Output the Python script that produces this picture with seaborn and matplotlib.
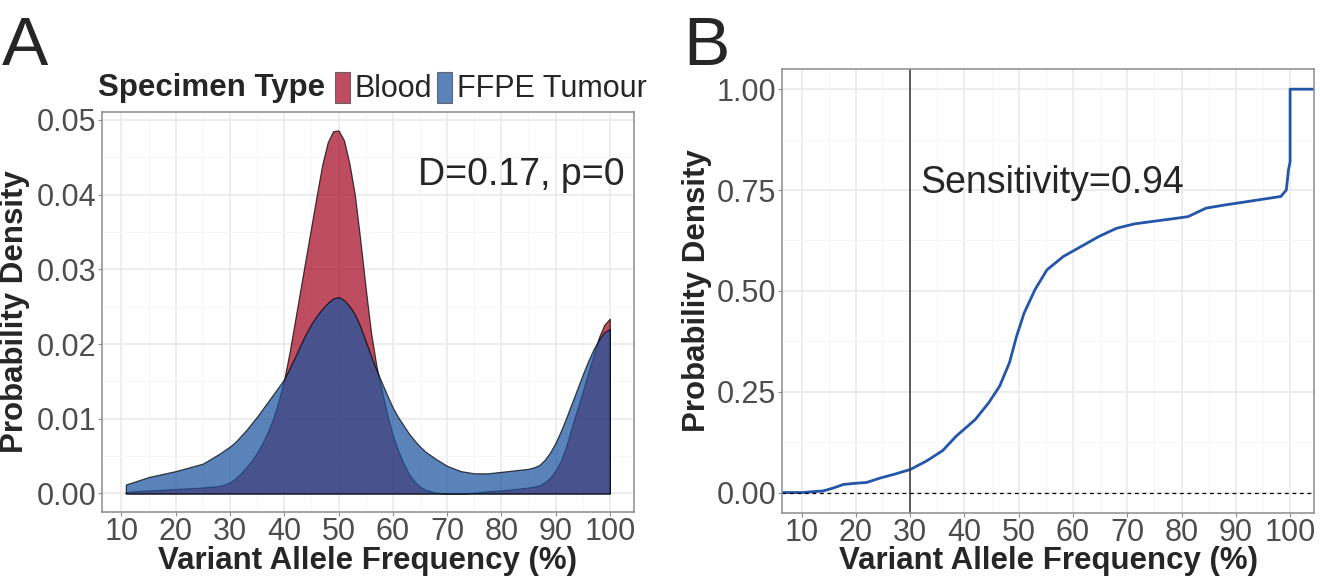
import matplotlib
matplotlib.use("Agg")
import matplotlib.pyplot as plt
from matplotlib.patches import Patch
from matplotlib.ticker import MultipleLocator, FormatStrFormatter
import pandas as pd
import seaborn as sns

# --- data ---
specimen_types = ["Blood", "FFPE Tumour"]
specimen_colours = ["#A70925", "#1B549F"]

vaf_grid = [10.8, 12.5, 15, 17.5, 20, 22.5, 25, 28, 29,
            30, 31, 32, 33, 34, 35, 36, 37, 38, 39,
            40, 41, 42, 43, 44, 45, 46, 47, 48, 49,
            50, 51, 52, 53, 54, 55, 56, 57, 58, 59,
            60, 61, 62, 63, 64, 65, 66, 68, 70, 72.5,
            75, 77.5, 80, 82.5, 85, 86, 87, 88, 89,
            90, 91, 92, 93, 94, 95, 96, 97, 98, 99, 100]
blood_density = [0.0002, 0.0003, 0.0004, 0.0005, 0.0006, 0.0007, 0.0008, 0.0010, 0.0012,
                 0.0015, 0.0020, 0.0027, 0.0035, 0.0044, 0.0055, 0.0068, 0.0083, 0.0101, 0.0125,
                 0.0153, 0.0190, 0.0232, 0.0274, 0.0316, 0.0358, 0.0400, 0.0440, 0.0470, 0.0485,
                 0.0486, 0.0473, 0.0442, 0.0400, 0.0340, 0.0275, 0.0215, 0.0170, 0.0137, 0.0105,
                 0.0078, 0.0057, 0.0040, 0.0026, 0.0016, 0.0009, 0.0005, 0.0001, 0.0000, 0.0000,
                 0.0001, 0.0003, 0.0004, 0.0006, 0.0008, 0.0009, 0.0011, 0.0015, 0.0021,
                 0.0031, 0.0044, 0.0064, 0.0089, 0.0113, 0.0136, 0.0161, 0.0185, 0.0209, 0.0226, 0.0234]
ffpe_density = [0.0012, 0.0016, 0.0022, 0.0026, 0.0030, 0.0035, 0.0040, 0.0053, 0.0058,
                0.0063, 0.0069, 0.0077, 0.0085, 0.0094, 0.0103, 0.0113, 0.0123, 0.0133, 0.0143,
                0.0153, 0.0168, 0.0183, 0.0199, 0.0214, 0.0227, 0.0238, 0.0247, 0.0255, 0.0261,
                0.0263, 0.0259, 0.0251, 0.0240, 0.0224, 0.0204, 0.0184, 0.0165, 0.0148, 0.0131,
                0.0115, 0.0102, 0.0091, 0.0080, 0.0071, 0.0063, 0.0056, 0.0046, 0.0037, 0.0030,
                0.0027, 0.0027, 0.0029, 0.0031, 0.0033, 0.0035, 0.0038, 0.0045, 0.0055,
                0.0068, 0.0084, 0.0102, 0.0121, 0.0140, 0.0159, 0.0177, 0.0193, 0.0206, 0.0216, 0.0220]

ecdf_vaf = [0, 10.2, 12, 14, 15.8, 17.7, 20, 22, 24.5, 27, 30, 33, 36, 38.5, 42,
            44.5, 46.5, 48.3, 49.6, 51, 53, 55.2, 58.2, 61.5, 64.8, 68, 71.3,
            74.6, 78, 81.2, 84.5, 88, 91, 94.4, 98.3, 99.3, 99.7, 100, 100, 110]
ecdf_prob = [0, 0, 0.002, 0.004, 0.011, 0.020, 0.023, 0.025, 0.036, 0.045, 0.057,
             0.078, 0.104, 0.140, 0.181, 0.223, 0.264, 0.322, 0.387, 0.445, 0.503,
             0.552, 0.585, 0.610, 0.635, 0.655, 0.666, 0.672, 0.678, 0.684, 0.705,
             0.713, 0.719, 0.726, 0.734, 0.750, 0.800, 0.820, 1.0, 1.0]

vaf_cutoff = 30
ks_label = "D=0.17, p=0"
sens_label = "Sensitivity=0.94"

dens_df = pd.DataFrame({
    "vaf": vaf_grid * 2,
    "density": blood_density + ffpe_density,
    "type": [specimen_types[0]] * len(vaf_grid) + [specimen_types[1]] * len(vaf_grid),
})
ecdf_df = pd.DataFrame({"vaf": ecdf_vaf, "prob": ecdf_prob})

sns.set_theme(style="whitegrid")
plt.rcParams["font.family"] = ["Liberation Sans", "DejaVu Sans"]

fig = plt.figure(figsize=(13.2, 5.76), dpi=100)
ax_a = fig.add_axes([0.0770, 0.1116, 0.4033, 0.6944])
ax_b = fig.add_axes([0.5922, 0.1099, 0.4035, 0.7703])


def style_panel(ax, ymajor, yminor):
    ax.set_facecolor("white")
    for s in ax.spines.values():
        s.set_color("#8c8c8c")
        s.set_linewidth(1.1)
    ax.xaxis.set_major_locator(MultipleLocator(10))
    ax.xaxis.set_minor_locator(MultipleLocator(5))
    ax.yaxis.set_major_locator(MultipleLocator(ymajor))
    ax.yaxis.set_minor_locator(MultipleLocator(yminor))
    ax.yaxis.set_major_formatter(FormatStrFormatter("%.2f"))
    ax.grid(which="major", color="#e8e8e8", linewidth=1.1)
    ax.grid(which="minor", color="#f4f4f4", linewidth=0.6)
    ax.tick_params(which="major", length=3, width=0.8, color="#8c8c8c",
                   labelsize=22, labelcolor="#4d4d4d", pad=1,
                   left=True, bottom=True)
    ax.tick_params(which="minor", length=0)
    ax.set_axisbelow(True)


# --- panel A: densities ---
for name, colour in zip(specimen_types, specimen_colours):
    sub = dens_df[dens_df["type"] == name]
    ax_a.fill_between(sub["vaf"], 0, sub["density"], facecolor=colour,
                      alpha=0.72, edgecolor="black", linewidth=0.9)

style_panel(ax_a, 0.01, 0.005)
ax_a.set_xlim(6.34, 104.46)
ax_a.set_ylim(-0.00244, 0.0511)
ax_a.text(102.7, 0.0413, ks_label, ha="right", va="baseline", fontsize=27)
ax_a.set_xlabel("Variant Allele Frequency (%)", fontsize=22.5, fontweight="bold")
ax_a.set_ylabel("Probability Density", fontsize=22.5, fontweight="bold")
ax_a.xaxis.set_label_coords(0.5, -0.085)
ax_a.yaxis.set_label_coords(-0.135, 0.5)

handles = [Patch(facecolor=c, alpha=0.72, edgecolor="#444444", linewidth=0.8)
           for c in specimen_colours]
fig.text(98 / 1320, 1 - 88 / 576, "Specimen Type", fontsize=22.5,
         fontweight="bold", ha="left", va="center")
fig.legend(handles, specimen_types, loc="center left",
           bbox_to_anchor=(335 / 1320, 1 - 88 / 576), ncol=2, fontsize=22,
           handlelength=0.5, handleheight=1.2, handletextpad=0.15,
           columnspacing=0.15, borderpad=0, borderaxespad=0, frameon=False)

# --- panel B: cumulative distribution ---
sns.lineplot(data=ecdf_df, x="vaf", y="prob", ax=ax_b, sort=False,
             estimator=None, color="#2356A8", linewidth=2)
ax_b.axvline(vaf_cutoff, color="#333333", linewidth=1.1)
ax_b.axhline(0, color="black", linewidth=0.9, linestyle=(0, (3, 3)))

style_panel(ax_b, 0.25, 0.125)
ax_b.set_xlim(6.34, 104.46)
ax_b.set_ylim(-0.05, 1.05)
ax_b.text(31.8, 0.7415, sens_label, ha="left", va="baseline", fontsize=27)
ax_b.set_xlabel("Variant Allele Frequency (%)", fontsize=22.5, fontweight="bold")
ax_b.set_ylabel("Probability Density", fontsize=22.5, fontweight="bold")
ax_b.xaxis.set_label_coords(0.5, -0.075)
ax_b.yaxis.set_label_coords(-0.131, 0.5)

# panel tags
fig.text(2 / 1320, 1 - 65 / 576, "A", fontsize=50, ha="left", va="baseline")
fig.text(683 / 1320, 1 - 65 / 576, "B", fontsize=50, ha="left", va="baseline")

fig.savefig("out.png", dpi=100)
